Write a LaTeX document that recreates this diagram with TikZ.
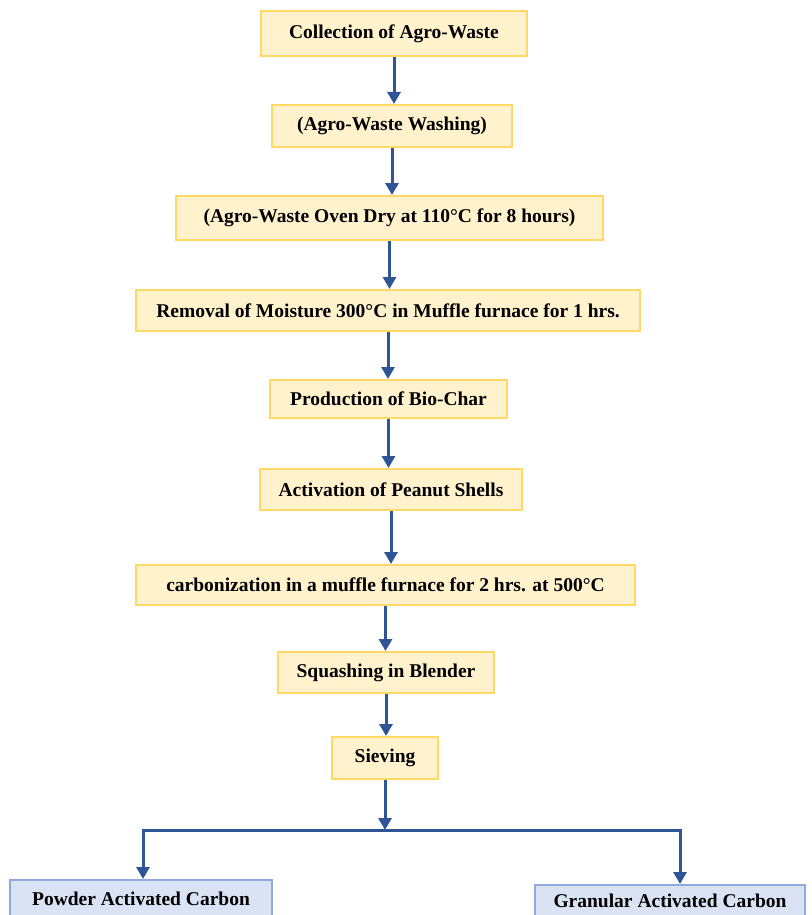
\documentclass[tikz,border=0pt]{standalone}
\usepackage{fontspec}
\setmainfont{Liberation Serif}
\usetikzlibrary{arrows.meta}
\definecolor{yfill}{HTML}{FFF2CC}
\definecolor{ydraw}{HTML}{FFD966}
\definecolor{bfill}{HTML}{DAE3F3}
\definecolor{bdraw}{HTML}{8FAADC}
\definecolor{arr}{HTML}{2F5597}
\tikzset{
  ybox/.style={draw=ydraw, fill=yfill, line width=2pt, inner sep=0pt, font=\fontsize{19.5}{22}\selectfont\bfseries},
  bbox/.style={draw=bdraw, fill=bfill, line width=2pt, inner sep=0pt, font=\fontsize{19.5}{22}\selectfont\bfseries},
  flow/.style={draw=arr, line width=3pt, -{Triangle[length=12pt,width=13pt]}},
  plain/.style={draw=arr, line width=3pt}
}
\begin{document}
\begin{tikzpicture}[x=1pt,y=1pt]
\clip (0,0) rectangle (811,-915);
\fill[white] (0,0) rectangle (811,-915);
\node[ybox, minimum width=266, minimum height=45] (n1) at (394,-33.5) {Collection of Agro-Waste};
\node[ybox, minimum width=240, minimum height=42] (n2) at (392,-126) {(Agro-Waste Washing)};
\node[ybox, minimum width=427, minimum height=44] (n3) at (389.5,-218) {(Agro-Waste Oven Dry at 110°C for 8 hours)};
\node[ybox, minimum width=504, minimum height=41] (n4) at (388,-310.5) {Removal of Moisture 300°C in Muffle furnace for 1 hrs.};
\node[ybox, minimum width=237, minimum height=38] (n5) at (388.5,-399) {Production of Bio-Char};
\node[ybox, minimum width=262, minimum height=41] (n6) at (391,-489.5) {Activation of Peanut Shells};
\node[ybox, minimum width=499, minimum height=40] (n7) at (385.5,-585) {carbonization in a muffle furnace for 2 hrs. at 500°C};
\node[ybox, minimum width=216, minimum height=41] (n8) at (386,-672.5) {Squashing in Blender};
\node[ybox, minimum width=106, minimum height=42] (n9) at (385,-758) {Sieving};
\node[bbox, minimum width=262, minimum height=38] (pw) at (141,-899) {Powder Activated Carbon};
\node[bbox, minimum width=270, minimum height=32] (gr) at (670,-901) {Granular Activated Carbon};
\coordinate (j) at (385,-830);
\coordinate (jl) at (143,-830);
\coordinate (jr) at (680,-830);
\draw[flow] (n1.south) -- (n1.south |- n2.north);
\draw[flow] (n2.south) -- (n2.south |- n3.north);
\draw[flow] (n3.south) -- (n3.south |- n4.north);
\draw[flow] (n4.south) -- (n4.south |- n5.north);
\draw[flow] (n5.south) -- (n5.south |- n6.north);
\draw[flow] (n6.south) -- (n6.south |- n7.north);
\draw[flow] (n7.south) -- (n7.south |- n8.north);
\draw[flow] (n8.south) -- (n8.south |- n9.north);
\draw[flow] (n9.south) -- (j);
\draw[plain, line cap=rect] (jl) -- (jr);
\draw[flow] (jl) -- (jl |- pw.north);
\draw[flow] (jr) -- (jr |- gr.north);
\end{tikzpicture}
\end{document}
